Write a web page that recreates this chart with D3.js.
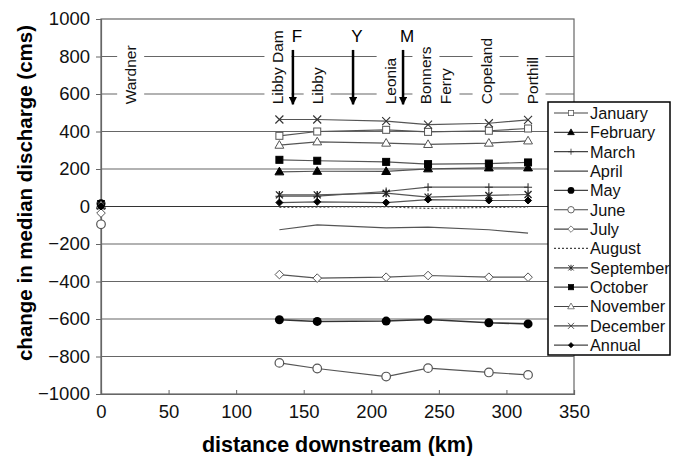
<!DOCTYPE html>
<html>
<head>
<meta charset="utf-8">
<script src="https://cdn.jsdelivr.net/npm/d3@7"></script>
<style>
body { margin: 0; background: #fff; }
svg { font-family: Arial, "Liberation Sans", sans-serif; }
</style>
</head>
<body>
<div id="chartDiv"></div>
<script>
// distances (km) of the downstream stations
var distances = [132, 160, 211, 242, 287, 316];

var months = ["January", "February", "March", "April", "May", "June", "July",
  "August", "September", "October", "November", "December", "Annual"];

// change in median discharge (cms) at each downstream station
var january   = [377, 400, 409, 398, 404, 416];
var february  = [185, 188, 187, 201, 206, 206];
var march     = [55, 55, 80, 103, 103, 103];
var april     = [-124, -98, -114, -110, -124, -142];
var may       = [-604, -613, -611, -603, -620, -626];
var june      = [-834, -864, -907, -862, -885, -898];
var july      = [-363, -382, -377, -368, -377, -377];
var august    = [-5, -3, -2, -10, -5, -3];
var september = [62, 62, 71, 50, 59, 64];
var october   = [249, 244, 238, 226, 229, 235];
var november  = [327, 345, 338, 331, 338, 350];
var december  = [464, 464, 455, 437, 444, 462];
var annual    = [21, 25, 21, 37, 32, 32];

// values at Wardner (km 0), same order as months
var wardner = [10, 5, 5, 3, 15, -95, -35, 0, 5, 12, 5, 5, 0];

var stations = [
  { name: ["Wardner"], km: 22 },
  { name: ["Libby Dam"], km: 131 },
  { name: ["Libby"], km: 160 },
  { name: ["Leonia"], km: 214 },
  { name: ["Bonners", "Ferry"], km: 240.5 },
  { name: ["Copeland"], km: 285 },
  { name: ["Porthill"], km: 319 }
];
var arrows = [
  { label: "F", km: 142 },
  { label: "Y", km: 186.5 },
  { label: "M", km: 223.5 }
];

var xTicks = [0, 50, 100, 150, 200, 250, 300, 350];
var yTicks = [-1000, -800, -600, -400, -200, 0, 200, 400, 600, 800, 1000];

var seriesValues = [january, february, march, april, may, june, july,
  august, september, october, november, december, annual];
var markers = ["sqOpen", "triFill", "plus", "none", "circFill", "circOpen", "diaOpen",
  "none", "star", "sqFill", "triOpen", "cross", "diaFill"];

var width = 678, height = 456;
var margin = { left: 101, right: 104, top: 19, bottom: 62 };

var x = d3.scaleLinear().domain([0, 350]).range([margin.left, width - margin.right]);
var y = d3.scaleLinear().domain([-1000, 1000]).range([height - margin.bottom, margin.top]);

var svg = d3.select("#chartDiv").append("svg")
  .attr("width", width)
  .attr("height", height);

var gridColor = "#666";

// gridlines
svg.append("g").selectAll("line")
  .data(yTicks.filter(function (d) { return d > -1000 && d < 1000; }))
  .enter().append("line")
  .attr("x1", x(0)).attr("x2", x(350))
  .attr("y1", function (d) { return y(d); })
  .attr("y2", function (d) { return y(d); })
  .attr("stroke", function (d) { return d === 0 ? "#333" : gridColor; })
  .attr("stroke-width", 1.2);

// frame
svg.append("rect")
  .attr("x", x(0)).attr("y", y(1000))
  .attr("width", x(350) - x(0)).attr("height", y(-1000) - y(1000))
  .attr("fill", "none").attr("stroke", gridColor).attr("stroke-width", 1.2);

// axes
var xAxis = svg.append("g")
  .attr("transform", "translate(0," + y(-1000) + ")")
  .call(d3.axisBottom(x).tickValues(xTicks).tickSize(-4).tickPadding(8));
var yAxis = svg.append("g")
  .attr("transform", "translate(" + x(0) + ",0)")
  .call(d3.axisLeft(y).tickValues(yTicks).tickFormat(d3.format("d")).tickSize(5).tickPadding(6));
[xAxis, yAxis].forEach(function (a) {
  a.select(".domain").attr("stroke", gridColor).attr("stroke-width", 1.2);
  a.selectAll(".tick line").attr("stroke", gridColor);
  a.selectAll("text").attr("font-size", 18.5).attr("fill", "#111")
    .attr("font-family", "Arial, 'Liberation Sans', sans-serif");
});
xAxis.selectAll("text").attr("dy", "0.85em");

// station labels with white background boxes
var labelG = svg.append("g");
stations.forEach(function (s) {
  s.name.forEach(function (line, j) {
    var g = labelG.append("g")
      .attr("transform", "translate(" + (x(s.km) + j * 20) + "," + y(545) + ") rotate(-90)");
    var t = g.append("text")
      .attr("font-size", 15.5)
      .attr("dy", "0.35em")
      .attr("fill", "#111")
      .text(line);
    var bb = t.node().getBBox();
    g.insert("rect", "text")
      .attr("x", bb.x - 4).attr("y", bb.y - 5)
      .attr("width", bb.width + 8).attr("height", bb.height + 10)
      .attr("fill", "#fff");
  });
});

// arrows
svg.append("defs").append("marker")
  .attr("id", "head")
  .attr("viewBox", "0 0 10 10")
  .attr("refX", 9).attr("refY", 5)
  .attr("markerWidth", 3.2).attr("markerHeight", 3.2)
  .attr("orient", "auto")
  .append("path").attr("d", "M0,0L10,5L0,10z").attr("fill", "#000");

arrows.forEach(function (a) {
  svg.append("line")
    .attr("x1", x(a.km)).attr("x2", x(a.km))
    .attr("y1", y(835)).attr("y2", y(545))
    .attr("stroke", "#000").attr("stroke-width", 2.5)
    .attr("marker-end", "url(#head)");
  svg.append("text")
    .attr("x", x(a.km) + 4).attr("y", y(910))
    .attr("dy", "0.35em")
    .attr("text-anchor", "middle")
    .attr("font-size", 17)
    .text(a.label);
});

// marker drawing
function drawMarker(g, type, cx, cy) {
  var stroke = "#333";
  if (type === "sqOpen" || type === "sqFill") {
    g.append("rect").attr("x", cx - 3.5).attr("y", cy - 3.5).attr("width", 7).attr("height", 7)
      .attr("fill", type === "sqFill" ? "#000" : "#fff").attr("stroke", type === "sqFill" ? "#000" : "#555");
  } else if (type === "triFill" || type === "triOpen") {
    g.append("path").attr("d", d3.symbol(d3.symbolTriangle, 34)())
      .attr("transform", "translate(" + cx + "," + (cy + 0.5) + ")")
      .attr("fill", type === "triFill" ? "#000" : "#fff").attr("stroke", type === "triFill" ? "#000" : "#555");
  } else if (type === "circFill") {
    g.append("circle").attr("cx", cx).attr("cy", cy).attr("r", 4.5).attr("fill", "#000");
  } else if (type === "circOpen") {
    g.append("circle").attr("cx", cx).attr("cy", cy).attr("r", 4.3)
      .attr("fill", "#fff").attr("stroke", "#555").attr("stroke-width", 1.2);
  } else if (type === "diaOpen" || type === "diaFill") {
    var r = type === "diaFill" ? 3.5 : 4.3;
    g.append("path").attr("d", "M0," + (-r) + "L" + r + ",0L0," + r + "L" + (-r) + ",0Z")
      .attr("transform", "translate(" + cx + "," + cy + ")")
      .attr("fill", type === "diaFill" ? "#000" : "#fff").attr("stroke", type === "diaFill" ? "#000" : "#555");
  } else if (type === "plus") {
    g.append("path").attr("d", "M" + cx + "," + (cy - 4) + "V" + (cy + 4) + "M" + (cx - 4) + "," + cy + "H" + (cx + 4))
      .attr("stroke", stroke).attr("stroke-width", 1.1);
  } else if (type === "cross") {
    g.append("path").attr("d", "M" + (cx - 4) + "," + (cy - 4) + "L" + (cx + 4) + "," + (cy + 4) +
      "M" + (cx - 4) + "," + (cy + 4) + "L" + (cx + 4) + "," + (cy - 4))
      .attr("stroke", stroke).attr("stroke-width", 1.1);
  } else if (type === "star") {
    g.append("path").attr("d", "M" + (cx - 3.5) + "," + (cy - 3.5) + "L" + (cx + 3.5) + "," + (cy + 3.5) +
      "M" + (cx - 3.5) + "," + (cy + 3.5) + "L" + (cx + 3.5) + "," + (cy - 3.5) +
      "M" + cx + "," + (cy - 4) + "V" + (cy + 4))
      .attr("stroke", "#222").attr("stroke-width", 1.3);
  }
}

var line = d3.line()
  .x(function (d, i) { return x(distances[i]); })
  .y(function (d) { return y(d); });

var seriesG = svg.append("g");
seriesValues.forEach(function (vals, k) {
  var type = markers[k];
  seriesG.append("path")
    .attr("d", line(vals))
    .attr("fill", "none")
    .attr("stroke", k === 4 ? "#333" : "#555")
    .attr("stroke-width", k === 4 ? 1.6 : 1.2)
    .attr("stroke-dasharray", months[k] === "August" ? "2,2" : null);
  var mg = seriesG.append("g");
  vals.forEach(function (v, i) { drawMarker(mg, type, x(distances[i]), y(v)); });
});

// Wardner points (km 0), not joined to the rest
var wg = svg.append("g");
wardner.forEach(function (v, k) {
  drawMarker(wg, markers[k], x(0), y(v));
});

// legend
var lx = 548, ly = 102, rowH = 19.35;
var legend = svg.append("g");
legend.append("rect")
  .attr("x", lx).attr("y", ly).attr("width", 122).attr("height", 253)
  .attr("fill", "#fff").attr("stroke", "#000").attr("stroke-width", 1.5);
months.forEach(function (m, k) {
  var cy = ly + 11 + k * rowH;
  legend.append("line")
    .attr("x1", lx + 6).attr("x2", lx + 40)
    .attr("y1", cy).attr("y2", cy)
    .attr("stroke", "#444").attr("stroke-width", 1.2)
    .attr("stroke-dasharray", m === "August" ? "2,2" : null);
  var mg = legend.append("g").attr("transform", "translate(" + (lx + 23) + "," + cy + ") scale(0.75) translate(" + -(lx + 23) + "," + -cy + ")");
  drawMarker(mg, markers[k], lx + 23, cy);
  legend.append("text")
    .attr("x", lx + 42).attr("y", cy)
    .attr("dy", "0.36em")
    .attr("font-size", 16.3)
    .attr("fill", "#111")
    .text(m);
});

// axis titles
svg.append("text")
  .attr("transform", "translate(25,193) rotate(-90)")
  .attr("text-anchor", "middle")
  .attr("dy", "0.35em")
  .attr("font-size", 20.5)
  .attr("font-weight", "bold")
  .text("change in median discharge (cms)");

svg.append("text")
  .attr("x", (x(0) + x(350)) / 2)
  .attr("y", 452)
  .attr("text-anchor", "middle")
  .attr("font-size", 21.5)
  .attr("font-weight", "bold")
  .text("distance downstream (km)");
</script>
</body>
</html>
